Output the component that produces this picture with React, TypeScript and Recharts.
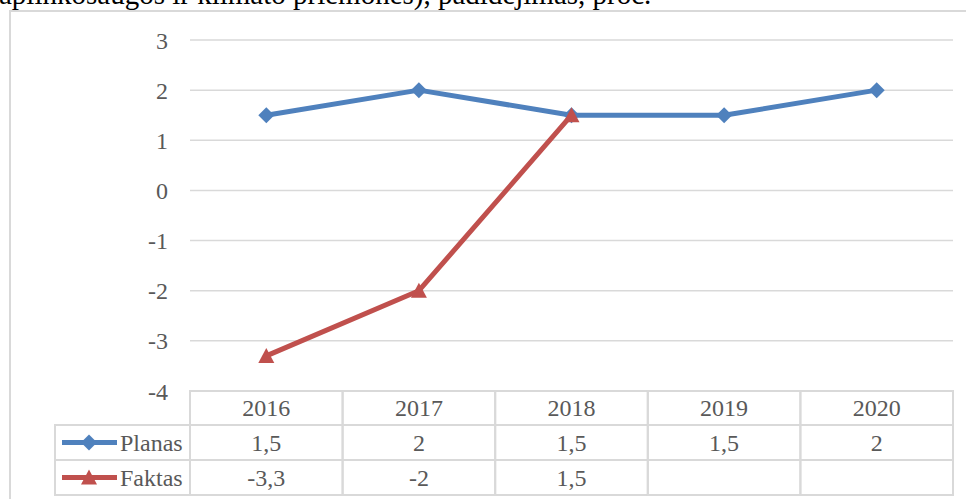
import React from 'react';
import { LineChart, Line, XAxis, YAxis, CartesianGrid } from 'recharts';

const years = ['2016', '2017', '2018', '2019', '2020'];
const planas: (number | null)[] = [1.5, 2, 1.5, 1.5, 2];
const faktas: (number | null)[] = [-3.3, -2, 1.5, null, null];
const yTicks = [-4, -3, -2, -1, 0, 1, 2, 3];
const seriesNames = ['Planas', 'Faktas'];
const heading = 'aplinkosaugos ir klimato priemonės), padidėjimas, proc.';

const BLUE = '#4f81bd';
const RED = '#c0504d';
const GRID = '#d9d9d9';
const TEXT = '#595959';
const FONT = '"Liberation Serif", "Times New Roman", serif';

const W = 966;
const H = 499;
const PLOT_LEFT = 190;
const PLOT_RIGHT = 953;
const PLOT_TOP = 40;
const PLOT_BOTTOM = 391;
const COL_W = (PLOT_RIGHT - PLOT_LEFT) / years.length;
const ROW_H = [34, 35, 35];
const LEGEND_LEFT = 55;

const data = years.map((year, i) => ({ year, planas: planas[i], faktas: faktas[i] }));

// excel-style decimal comma
const fmt = (v: number | null) => (v == null ? '' : String(v).replace('.', ','));

const Diamond = ({ cx, cy }: any) => {
  if (cx == null || cy == null) return null;
  return <path d={`M${cx},${cy - 8}L${cx + 8},${cy}L${cx},${cy + 8}L${cx - 8},${cy}Z`} fill={BLUE} />;
};

const Triangle = ({ cx, cy }: any) => {
  if (cx == null || cy == null) return null;
  return <path d={`M${cx},${cy - 8}L${cx + 8},${cy + 7}L${cx - 8},${cy + 7}Z`} fill={RED} />;
};

const LegendKey = ({ x, y, color, shape }: any) => (
  <g>
    <line x1={x} y1={y} x2={x + 55} y2={y} stroke={color} strokeWidth={5} />
    {shape === 'diamond' ? <Diamond cx={x + 27} cy={y} /> : <Triangle cx={x + 27} cy={y} />}
  </g>
);

// x-axis tick drawn as a data table column
const TableTick = (props: any) => {
  const { x, y, index, payload } = props;
  const left = x - COL_W / 2;
  const cells = [payload.value, fmt(planas[index]), fmt(faktas[index])];
  let top = y;
  const out: React.ReactNode[] = [];
  cells.forEach((txt, r) => {
    out.push(
      <rect key={`c${r}`} x={left} y={top} width={COL_W} height={ROW_H[r]} fill="none" stroke={GRID} strokeWidth={2} />
    );
    out.push(
      <text key={`t${r}`} x={x} y={top + ROW_H[r] / 2 + 8} textAnchor="middle" fill={TEXT} fontSize={24} fontFamily={FONT}>
        {txt}
      </text>
    );
    if (index === 0 && r > 0) {
      out.push(
        <rect key={`l${r}`} x={LEGEND_LEFT} y={top} width={left - LEGEND_LEFT} height={ROW_H[r]} fill="none" stroke={GRID} strokeWidth={2} />
      );
      out.push(
        <LegendKey key={`k${r}`} x={LEGEND_LEFT + 7} y={top + ROW_H[r] / 2} color={r === 1 ? BLUE : RED} shape={r === 1 ? 'diamond' : 'triangle'} />
      );
      out.push(
        <text key={`n${r}`} x={LEGEND_LEFT + 65} y={top + ROW_H[r] / 2 + 8} fill={TEXT} fontSize={24} fontFamily={FONT}>
          {seriesNames[r - 1]}
        </text>
      );
    }
    top += ROW_H[r];
  });
  return <g>{out}</g>;
};

const App = () => {
  return (
    <div style={{ position: 'fixed', left: 0, top: 0, width: W, height: H, overflow: 'hidden', background: '#fff' }}>
      <div style={{ position: 'absolute', left: 9, top: 10, width: 1000, height: 600, border: `2px solid ${GRID}` }} />
      <svg width={W} height={20} style={{ position: 'absolute', left: 0, top: 0 }}>
        <text x={-1} y={4} fontSize={29} fontFamily={FONT} fill="#000">
          {heading}
        </text>
      </svg>
      <div style={{ position: 'absolute', left: 0, top: 0 }}>
        <LineChart
          width={W}
          height={H}
          data={data}
          margin={{ top: PLOT_TOP, right: W - PLOT_RIGHT, bottom: 4, left: 0 }}
        >
          <CartesianGrid vertical={false} stroke={GRID} strokeWidth={1.5} />
          <XAxis
            dataKey="year"
            height={H - PLOT_BOTTOM - 4}
            padding={{ left: COL_W / 2, right: COL_W / 2 }}
            axisLine={false}
            tickLine={false}
            tickSize={0}
            tickMargin={0}
            interval={0}
            tick={<TableTick />}
          />
          <YAxis
            width={PLOT_LEFT}
            domain={[-4, 3]}
            ticks={yTicks}
            interval={0}
            axisLine={false}
            tickLine={false}
            tickSize={0}
            tickMargin={22}
            tick={{ fill: TEXT, fontSize: 24, fontFamily: FONT }}
          />
          <Line
            dataKey="planas"
            stroke={BLUE}
            strokeWidth={5}
            strokeLinejoin="round"
            dot={<Diamond />}
            activeDot={false}
            isAnimationActive={false}
          />
          <Line
            dataKey="faktas"
            stroke={RED}
            strokeWidth={5}
            strokeLinejoin="round"
            dot={<Triangle />}
            activeDot={false}
            isAnimationActive={false}
          />
        </LineChart>
      </div>
    </div>
  );
};

export default App;
